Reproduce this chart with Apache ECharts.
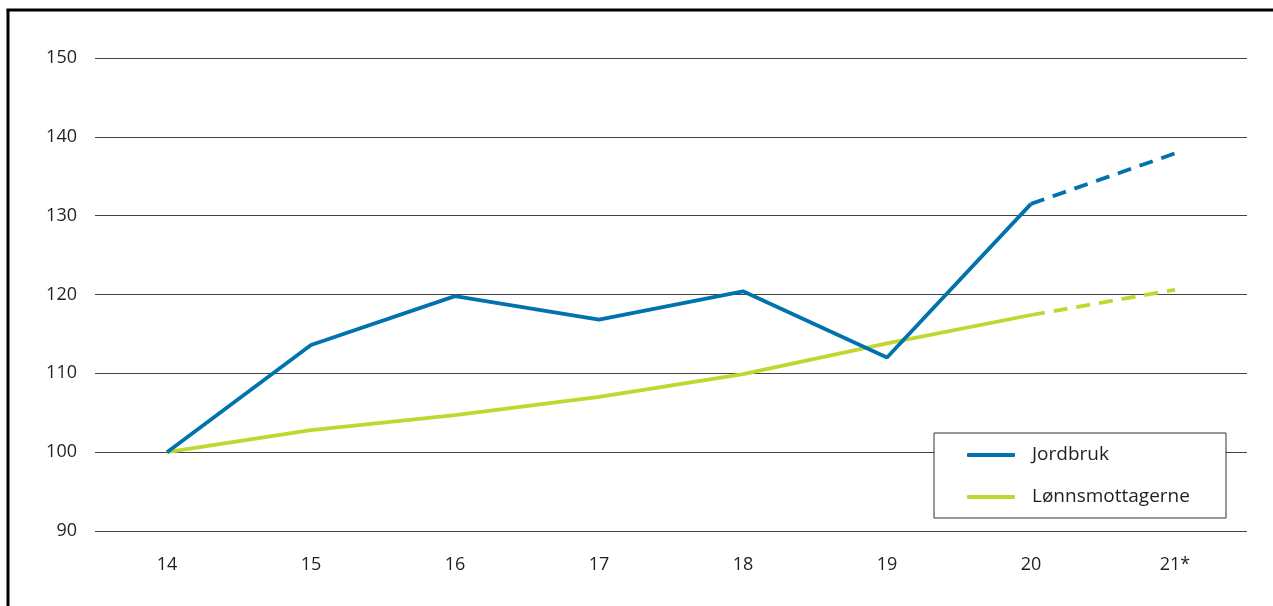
<!DOCTYPE html>
<html>
<head>
<meta charset="utf-8">
<script src="https://cdn.jsdelivr.net/npm/echarts@6/dist/echarts.min.js"></script>
<style>
html,body{margin:0;padding:0;background:#fff;}
#chart{width:1273px;height:606px;}
</style>
</head>
<body>
<div id="chart"></div>
<script>
const categories = ['14', '15', '16', '17', '18', '19', '20', '21*'];
const jordbruk = [100, 113.6, 119.8, 116.8, 120.4, 112.0, 131.5, 137.9];
const lonnsmottagerne = [100, 102.8, 104.7, 107.0, 109.9, 113.8, 117.4, 120.6];
const yTicks = [90, 100, 110, 120, 130, 140, 150];
const lastActual = 6; // index of '20'; '21*' is a forecast (dashed)

function solidPart(arr) { return arr.map((v, i) => i <= lastActual ? v : null); }
function dashedPart(arr) { return arr.map((v, i) => i >= lastActual ? v : null); }

const BLUE = '#0072AD';
const GREEN = '#C0D72F';
const FONT = "'Open Sans', sans-serif";
const TXT = '#231F20';

const chart = echarts.init(document.getElementById('chart'));
chart.setOption({
  backgroundColor: '#ffffff',
  animation: false,
  grid: { left: 95, right: 26, top: 58, bottom: 75, containLabel: false },
  xAxis: {
    type: 'category',
    data: categories,
    boundaryGap: true,
    axisLine: { show: false },
    axisTick: { show: false },
    axisLabel: { color: TXT, fontFamily: FONT, fontSize: 18, margin: 25 }
  },
  yAxis: {
    type: 'value',
    min: yTicks[0],
    max: yTicks[yTicks.length - 1],
    interval: 10,
    axisLine: { show: false },
    axisTick: { show: false },
    axisLabel: { color: TXT, fontFamily: FONT, fontSize: 18, margin: 18 },
    splitLine: { lineStyle: { color: '#444444', width: 1 } }
  },
  legend: {
    show: true,
    orient: 'vertical',
    left: 967,
    top: 445,
    padding: 0,
    itemGap: 22,
    itemWidth: 48,
    itemHeight: 4,
    icon: 'roundRect',
    z: 10,
    data: ['Jordbruk', 'Lønnsmottagerne'],
    textStyle: { color: TXT, fontFamily: FONT, fontSize: 19, lineHeight: 20, padding: [0, 0, 0, 12] }
  },
  graphic: [
    { type: 'rect', z: 9, shape: { x: 934, y: 433, width: 292, height: 85 },
      style: { fill: '#ffffff', stroke: '#333333', lineWidth: 1 } },
    { type: 'line', z: 20, shape: { x1: 8, y1: 10, x2: 8, y2: 606 },
      style: { stroke: '#000000', lineWidth: 3 } },
    { type: 'line', z: 20, shape: { x1: 6.5, y1: 10, x2: 1273, y2: 10 },
      style: { stroke: '#000000', lineWidth: 3 } }
  ],
  series: [
    { name: 'Jordbruk', type: 'line', data: solidPart(jordbruk), symbol: 'none',
      lineStyle: { color: BLUE, width: 3.8 }, itemStyle: { color: BLUE }, z: 3 },
    { name: 'Jordbruk (anslag)', type: 'line', data: dashedPart(jordbruk), symbol: 'none',
      lineStyle: { color: BLUE, width: 3.8, type: [14, 9] }, itemStyle: { color: BLUE }, z: 3 },
    { name: 'Lønnsmottagerne', type: 'line', data: solidPart(lonnsmottagerne), symbol: 'none',
      lineStyle: { color: GREEN, width: 3.8 }, itemStyle: { color: GREEN }, z: 2 },
    { name: 'Lønnsmottagerne (anslag)', type: 'line', data: dashedPart(lonnsmottagerne), symbol: 'none',
      lineStyle: { color: GREEN, width: 3.8, type: [14, 9] }, itemStyle: { color: GREEN }, z: 2 }
  ]
});
</script>
</body>
</html>
